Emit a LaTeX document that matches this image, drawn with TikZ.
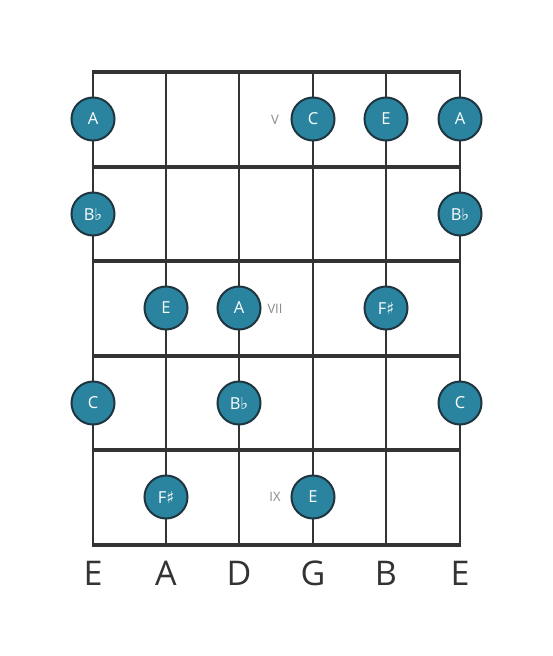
\documentclass[tikz,border=0pt]{standalone}
\usepackage{fontspec}
\setmainfont{Open Sans}
\newfontfamily\symfont{DejaVu Sans}
\definecolor{dotfill}{HTML}{2A84A0}
\definecolor{dotline}{HTML}{1F3540}
\definecolor{gridcol}{HTML}{333333}
\definecolor{fretlab}{HTML}{8A8A8A}
\newcommand{\flt}{{\symfont\char"266D}}
\newcommand{\shp}{{\symfont\char"266F}}
\begin{document}
\begin{tikzpicture}[x=1pt,y=-1pt,
  fretline/.style={draw=gridcol,line width=4.5pt},
  stringline/.style={draw=gridcol,line width=2.6pt},
  notedot/.style={circle,fill=dotfill,draw=dotline,line width=2pt,minimum size=43pt,inner sep=0pt,text=white,font=\fontsize{16.5}{16.5}\selectfont},
  fretnum/.style={text=fretlab,font=\fontsize{13}{13}\selectfont},
  strname/.style={text=gridcol,font=\fontsize{34}{34}\selectfont}]
\useasboundingbox (0,0) rectangle (553,656);
\fill[white] (0,0) rectangle (553,656);
% strings
\foreach \x/\n in {93/s1,166/s2,239/s3,313/s4,386/s5,460/s6}{
  \coordinate (\n t) at (\x,72);
  \coordinate (\n b) at (\x,545);
  \draw[stringline] (\n t) -- (\n b);
}
% frets
\foreach \y/\n in {72/f0,167/f1,261/f2,356/f3,450/f4,545/f5}{
  \coordinate (\n l) at (91.7,\y);
  \coordinate (\n r) at (461.3,\y);
  \draw[fretline] (\n l) -- (\n r);
}
% fret labels
\node[fretnum] (fv) at (275,120) {V};
\node[fretnum] (fvii) at (275,309) {VII};
\node[fretnum] (fix) at (275,497) {IX};
% notes
\node[notedot] (n1) at (93,119) {A};
\node[notedot] (n2) at (313,119) {C};
\node[notedot] (n3) at (386,119) {E};
\node[notedot] (n4) at (460,119) {A};
\node[notedot] (n5) at (93,214) {B\flt};
\node[notedot] (n6) at (460,214) {B\flt};
\node[notedot] (n7) at (166,308) {E};
\node[notedot] (n8) at (239,308) {A};
\node[notedot] (n9) at (386,308) {F\shp};
\node[notedot] (n10) at (93,403) {C};
\node[notedot] (n11) at (239,403) {B\flt};
\node[notedot] (n12) at (460,403) {C};
\node[notedot] (n13) at (166,497) {F\shp};
\node[notedot] (n14) at (313,497) {E};
% string names
\node[strname] (l1) at (93,573) {E};
\node[strname] (l2) at (166,573) {A};
\node[strname] (l3) at (239,573) {D};
\node[strname] (l4) at (313,573) {G};
\node[strname] (l5) at (386,573) {B};
\node[strname] (l6) at (460,573) {E};
\end{tikzpicture}
\end{document}
